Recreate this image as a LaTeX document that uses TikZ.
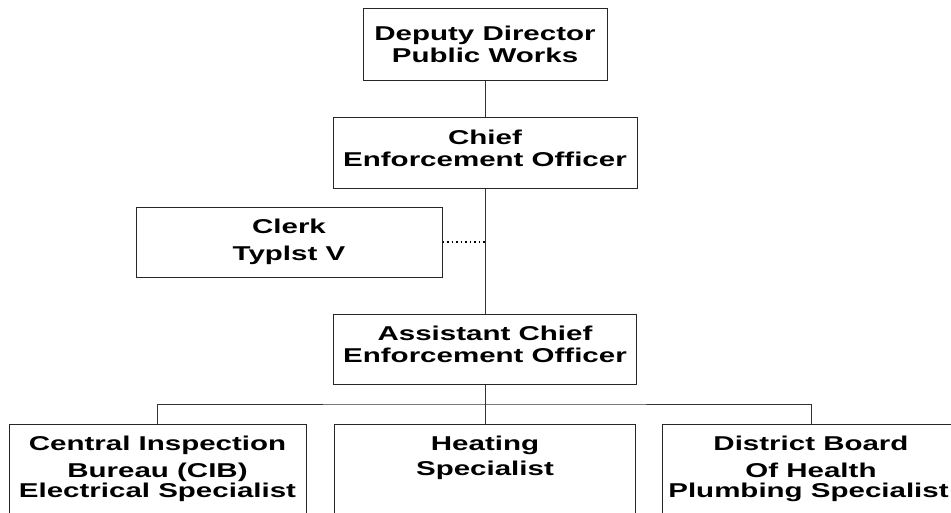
\documentclass[tikz,border=0pt]{standalone}
\usepackage{fontspec}
\newfontfamily\orgfont{Liberation Sans}[FakeStretch=1.475]
\newcommand{\dpt}[1]{\rule[-#1]{0pt}{#1}}
\begin{document}
\begin{tikzpicture}[x=1pt,y=-1pt,
  orgbox/.style={draw=black!85, line width=1pt, fill=white, align=center,
    inner sep=0pt, font=\orgfont\bfseries\fontsize{20}{22}\selectfont},
  link/.style={draw=black!80, line width=1pt},
  dotlink/.style={draw=black, line width=1.2pt, dash pattern=on 1.5pt off 3pt}]
\clip (0,0) rectangle (951,512);
\fill[white] (0,0) rectangle (951,512);
\node[orgbox, minimum width=244pt, minimum height=72pt] (top) at (485,44) {Deputy Director\\Public Works};
\node[orgbox, minimum width=304pt, minimum height=71pt] (chief) at (485,152.5) {Chief\\Enforcement Officer\dpt{9pt}};
\node[orgbox, minimum width=306pt, minimum height=70pt] (clerk) at (289,242) {Clerk\\[5pt]Typlst V};
\node[orgbox, minimum width=303pt, minimum height=70pt] (asst) at (485,349) {Assistant Chief\\Enforcement Officer\dpt{9pt}};
\node[orgbox, anchor=north, minimum width=297pt, minimum height=100pt] (cib) at (157.5,424) {Central Inspection\\[5pt]Bureau (CIB)\\[-2pt]Electrical Specialist\dpt{15.6pt}};
\node[orgbox, anchor=north, minimum width=301pt, minimum height=100pt] (heat) at (485,424) {Heating\\[3pt]Specialist\dpt{37.6pt}};
\node[orgbox, anchor=north, minimum width=298pt, minimum height=100pt] (dboh) at (811,424) {District Board\\[5pt]Of Health\\[-2pt]\hspace*{-5pt}Plumbing Specialist\dpt{15.6pt}};
\coordinate (bus) at (485,404);
\draw[link] (top.south) -- (chief.north);
\draw[link] (chief.south) -- (asst.north);
\draw[dotlink] (clerk.east) -- (clerk.east -| chief.south);
\draw[link] (asst.south) -- (heat.north);
\draw[link] (cib.north) |- (bus) -| (dboh.north);
\end{tikzpicture}
\end{document}
